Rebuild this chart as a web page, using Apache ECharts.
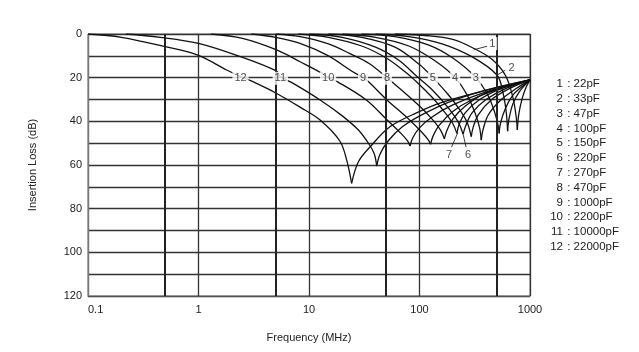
<!DOCTYPE html>
<html lang="en">
<head>
<meta charset="UTF-8">
<title>Insertion Loss</title>
<script src="https://cdn.jsdelivr.net/npm/echarts@6/dist/echarts.min.js"></script>
<style>
    html, body { margin: 0; background: #fff; }
    #main { width: 639px; height: 352px; }
</style>
</head>
<body>
<div id="main"></div>
<script>
    // capacitance of each curve, index 0 -> curve 1
    var capNames = ['22pF', '33pF', '47pF', '100pF', '150pF', '220pF', '270pF', '470pF', '1000pF', '2200pF', '10000pF', '22000pF'];

    // points: [frequency MHz, insertion loss dB]
    var c1 = [[60,0],[120,0.8],[200,2.5],[305,6.4],[450,11.5],[600,19],[700,29],[750,38],[768,44],[790,37],[850,29.5],[920,24.5],[1000,21]];
    var c2 = [[40,0],[80,1.2],[160,4.5],[300,10.5],[502,18.8],[570,27],[610,36],[627,44.5],[645,39],[700,32],[800,26.5],[1000,21]];
    var c3 = [[30,0],[60,1.2],[120,5],[200,11],[324,20],[420,28.5],[480,36],[515,42],[526,45.5],[540,41],[600,34],[700,28],[850,24],[1000,21]];
    var c4 = [[20,0],[40,1.5],[80,5.5],[140,12.5],[210,20],[270,28],[320,36.5],[350,43],[362,48.6],[375,44],[420,37],[550,30],[750,25],[1000,21]];
    var c5 = [[15,0],[30,1.5],[60,6],[100,14],[132,20],[180,27.5],[230,34.5],[270,40.5],[294,47],[305,43],[340,37],[450,30],[650,25],[1000,21]];
    var c6 = [[10,0],[20,1.5],[40,6],[65,12],[95,19.5],[130,25.5],[180,33.5],[225,40.5],[248,46],[262,42],[300,36],[400,30],[600,25],[1000,21]];
    var c7 = [[8,0],[15,1.5],[30,5.5],[50,11],[75,17.5],[90,21],[130,29],[170,36],[200,41],[218,45.5],[228,41.5],[260,36],[350,30],[550,25],[1000,21]];
    var c8 = [[5,0],[8.3,1.2],[15,4.5],[23.5,9],[35,13.5],[50.8,20],[70,26],[100,33],[130,39],[155,44],[168,48],[176,44.5],[200,39],[260,33],[400,27],[1000,21]];
    var c9 = [[3,0],[5,1.5],[8.3,4.3],[15,10],[23.5,16.5],[30.8,20],[34.4,21.8],[50.8,30.2],[80,39],[105,45],[120,48.5],[126,50.5],[132,47],[150,42],[200,35.5],[300,30],[500,25.5],[1000,21]];
    var c10 = [[1.3,0],[2.5,2],[5.1,7.3],[8.3,12.7],[12.6,17.5],[15,20],[18,21.8],[33,30.2],[51,39.4],[68,45.5],[78,49],[82,51.3],[87,47.5],[100,43],[130,38],[200,32.5],[400,26.5],[1000,21]];
    var c11 = [[0.22,0],[0.45,1.5],[1,4.3],[2.4,10.4],[5.1,17],[5.5,19.5],[7.2,22.6],[12.6,30.2],[20,37.5],[28,44],[35,50.5],[39,55],[41,60.5],[44,55],[52,49],[70,42.5],[110,36.5],[200,30.5],[450,25],[1000,21]];
    var c12 = [[0.1,0],[0.2,1.5],[0.5,5.8],[1,9.8],[1.8,16.5],[2.4,19.5],[3,21.5],[5,27],[8.3,33.5],[12.6,39.4],[19,49],[22,58],[24.3,68.4],[28,58.5],[36,51.5],[54,42.5],[95,36],[155,31.5],[350,26.5],[1000,21]];
    var curves = [c1, c2, c3, c4, c5, c6, c7, c8, c9, c10, c11, c12];

    // extra (heavier) vertical grid lines
    var halfLines = [0.5, 5, 50, 500];

    // curve numbers sitting on the 20 dB line
    var lineLabelText = ['12', '11', '10', '9', '8', '5', '4', '3'];
    var lineLabelPos = [[2.4,20.3],[5.5,20.3],[14.9,20.3],[30.8,20.3],[50.8,20.3],[132,20.3],[210,20.3],[324,20.3]];

    // curve numbers with a short leader line
    var leaderText = ['1', '2', '7', '6'];
    var leaderTextPos = [[455,4.4],[680,15.4],[185,55.6],[275,55.6]];
    var leaderLines = [
        [[410,5.6],[310,7.2]],
        [[596,16.6],[505,18.8]],
        [[195,51.8],[222,45.2]],
        [[264,51.8],[249,46.2]]
    ];

    var font = '"Liberation Sans", Arial, sans-serif';
    var myChart = echarts.init(document.getElementById('main'));

    var series = [];
    curves.forEach(function (pts, n) {
        // split at the notch so the bottom stays sharp
        var k = 0;
        for (var i = 1; i < pts.length; i++) if (pts[i][1] > pts[k][1]) k = i;
        [pts.slice(0, k + 1), pts.slice(k)].forEach(function (part) {
            series.push({
                name: (n + 1) + ' : ' + capNames[n],
                type: 'line',
                data: part,
                smooth: 0.35,
                showSymbol: false,
                silent: true,
                z: 3,
                lineStyle: { color: '#111', width: 1.3 }
            });
        });
    });

    // half-decade grid lines
    series.push({
        type: 'line',
        data: [],
        silent: true,
        markLine: {
            silent: true,
            symbol: ['none', 'none'],
            label: { show: false },
            animation: false,
            lineStyle: { color: '#222', width: 2, type: 'solid' },
            data: halfLines.map(function (v) { return { xAxis: v }; })
        }
    });

    leaderLines.forEach(function (seg) {
        series.push({
            type: 'line',
            data: seg,
            showSymbol: false,
            silent: true,
            z: 4,
            lineStyle: { color: '#222', width: 0.9 }
        });
    });

    series.push({
        type: 'scatter',
        symbolSize: 0,
        silent: true,
        z: 6,
        data: lineLabelPos.map(function (p, i) { return { value: p, name: lineLabelText[i] }; })
            .concat(leaderTextPos.map(function (p, i) { return { value: p, name: leaderText[i] }; })),
        label: {
            show: true,
            position: 'inside',
            formatter: '{b}',
            color: '#222',
            fontSize: 11,
            fontFamily: font,
            backgroundColor: '#fff',
            padding: [1, 2]
        }
    });

    // legend block at the right, numbers right-aligned so the colons line up
    var legendItems = [];
    capNames.forEach(function (c, i) {
        var y = 84 + i * 14.8;
        legendItems.push({
            type: 'text', x: 563, y: y,
            style: { text: String(i + 1), align: 'right', verticalAlign: 'middle', fill: '#222', font: '11.5px ' + font }
        });
        legendItems.push({
            type: 'text', x: 564, y: y,
            style: { text: ' : ' + c, align: 'left', verticalAlign: 'middle', fill: '#222', font: '11.5px ' + font }
        });
    });

    var option = {
        animation: false,
        backgroundColor: '#fff',
        graphic: { elements: legendItems },
        grid: { left: 88, top: 34, width: 442, height: 262, show: true, borderColor: '#777', borderWidth: 1 },
        xAxis: {
            type: 'log',
            logBase: 10,
            min: 0.1,
            max: 1000,
            name: 'Frequency (MHz)',
            nameLocation: 'middle',
            nameGap: 36,
            nameTextStyle: { fontSize: 11, color: '#222', fontFamily: font },
            axisLine: { onZero: false, lineStyle: { color: '#555' } },
            axisTick: { show: false },
            axisLabel: {
                fontSize: 11, color: '#222', fontFamily: font, margin: 8,
                alignMinLabel: 'left',
                formatter: function (v) { return String(+v.toPrecision(3)); }
            },
            splitLine: { show: true, lineStyle: { color: '#333', width: 1.3 } }
        },
        yAxis: {
            type: 'value',
            inverse: true,
            min: 0,
            max: 120,
            interval: 10,
            name: 'Insertion Loss (dB)',
            nameLocation: 'middle',
            nameGap: 50,
            nameTextStyle: { fontSize: 11, color: '#222', fontFamily: font },
            axisLine: { show: true, onZero: false, lineStyle: { color: '#777' } },
            axisTick: { show: false },
            axisLabel: {
                fontSize: 11, color: '#222', fontFamily: font, margin: 6,
                formatter: function (v) { return v % 20 === 0 ? String(v) : ''; }
            },
            splitLine: { show: true, lineStyle: { color: '#333', width: 1.3 } }
        },
        series: series
    };

    myChart.setOption(option);
</script>
</body>
</html>
